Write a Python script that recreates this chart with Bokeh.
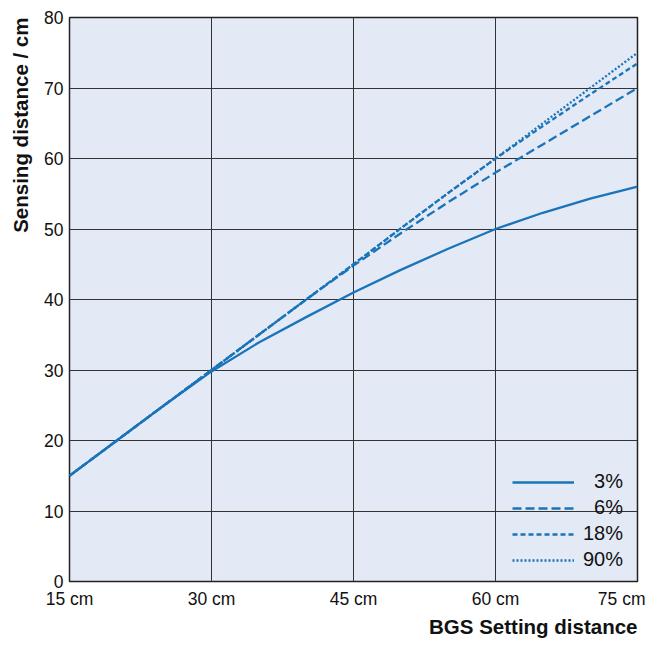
from bokeh.plotting import figure
from bokeh.models import Range1d, FixedTicker, Legend, LegendItem, Title
from bokeh.embed import file_html
from bokeh.resources import INLINE

# Data
x_vals = [15, 20, 25, 30, 35, 40, 45, 50, 55, 60, 65, 70, 75]
y_3 = [15, 20, 25, 29.8, 33.9, 37.5, 41.0, 44.2, 47.2, 50.0, 52.3, 54.3, 56.0]
y_6 = [15, 20, 25, 30, 35, 40, 44.8, 49.4, 53.8, 58.0, 62.0, 66.0, 70.0]
y_18 = [15, 20, 25, 30, 35, 40, 45, 50.1, 55.1, 60.0, 64.6, 69.1, 73.5]
y_90 = [15, 20, 25, 30, 35, 40, 45, 50.1, 55.1, 60.0, 65.0, 70.0, 75.0]
series_labels = ["\u00a0\u00a03%", "\u00a0\u00a06%", "18%", "90%"]
x_ticks = [15, 30, 45, 60, 75]
x_tick_labels = ["15 cm", "30 cm", "45 cm", "60 cm", "75 cm"]
y_ticks = [0, 10, 20, 30, 40, 50, 60, 70, 80]

FONT = "Liberation Sans"
BLUE = "#1a74b9"

p = figure(width=645, height=638, output_backend="svg", toolbar_location=None,
           x_range=Range1d(15, 75), y_range=Range1d(0, 80),
           min_border_left=69, min_border_right=8, min_border_top=17, min_border_bottom=54)

p.background_fill_color = "#e3e9f5"
p.border_fill_color = "white"
p.outline_line_color = "#222222"
p.outline_line_width = 1.5

for ax in (p.xaxis[0], p.yaxis[0]):
    ax.major_tick_line_color = None
    ax.minor_tick_line_color = None
    ax.major_tick_out = 0
    ax.major_tick_in = 0
    ax.minor_tick_out = 0
    ax.minor_tick_in = 0
    ax.axis_line_color = None
    ax.major_label_text_font = FONT
    ax.major_label_text_font_size = "17.5px"
    ax.major_label_text_color = "#111111"

p.xaxis.ticker = FixedTicker(ticks=x_ticks)
p.xaxis.major_label_overrides = {t: l for t, l in zip(x_ticks, x_tick_labels)}
p.xaxis.major_label_standoff = 7
p.yaxis.ticker = FixedTicker(ticks=y_ticks)
p.yaxis.major_label_standoff = 6
# blank spacer label to push the left title outward
p.yaxis.axis_label = "\u00a0"
p.yaxis.axis_label_standoff = -7
p.yaxis.axis_label_text_font_size = "8px"

p.xgrid.ticker = FixedTicker(ticks=x_ticks)
p.ygrid.ticker = FixedTicker(ticks=y_ticks)
for g in (p.xgrid[0], p.ygrid[0]):
    g.grid_line_color = "#333333"
    g.grid_line_width = 1

r3 = p.line(x_vals, y_3, line_color=BLUE, line_width=2.3)
r6 = p.line(x_vals, y_6, line_color=BLUE, line_width=2.3, line_dash="9 4")
r18 = p.line(x_vals, y_18, line_color=BLUE, line_width=2.3, line_dash="5 3")
r90 = p.line(x_vals, y_90, line_color=BLUE, line_width=2.3, line_dash="2 2")

legend = Legend(items=[LegendItem(label=series_labels[0], renderers=[r3]),
                       LegendItem(label=series_labels[1], renderers=[r6]),
                       LegendItem(label=series_labels[2], renderers=[r18]),
                       LegendItem(label=series_labels[3], renderers=[r90])],
                location="bottom_right", glyph_width=62, glyph_height=20,
                label_height=20, label_width=44, spacing=3, label_standoff=9,
                margin=10, padding=5,
                border_line_color=None, background_fill_alpha=0,
                label_text_font=FONT, label_text_font_size="20px",
                label_text_color="#111111")
p.add_layout(legend, "center")

p.add_layout(Title(text="BGS Setting distance", align="right", text_font=FONT,
                   text_font_size="20.5px", text_font_style="bold", text_color="#111111",
                   standoff=2), "below")
p.add_layout(Title(text="Sensing distance / cm", align="right", text_font=FONT,
                   text_font_size="20.5px", text_font_style="bold", text_color="#111111"),
             "left")

open("out.html", "w").write(file_html(p, INLINE))
